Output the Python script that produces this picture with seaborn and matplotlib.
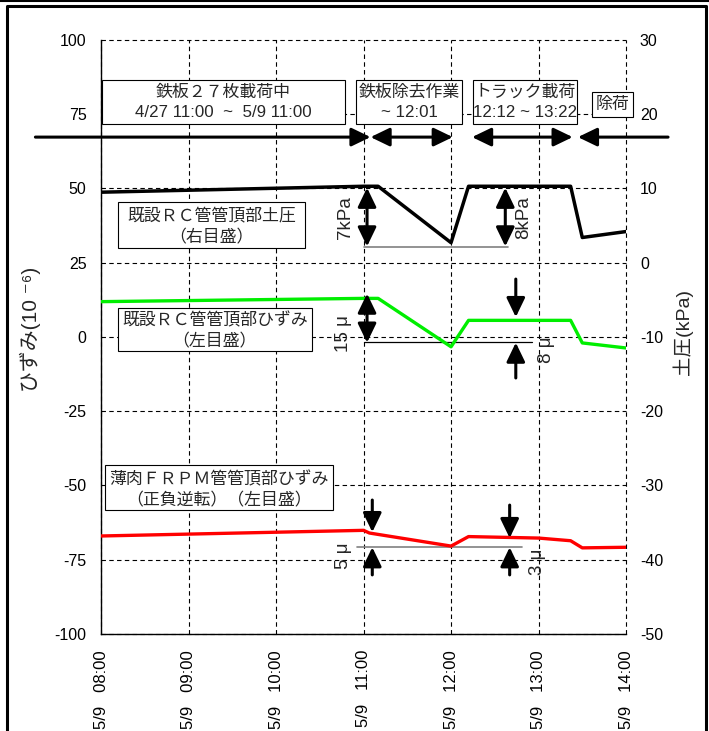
import matplotlib
matplotlib.use("Agg")
import matplotlib.pyplot as plt
import pandas as pd
import seaborn as sns
from matplotlib.patches import Rectangle, FancyArrowPatch
from matplotlib.lines import Line2D

# ---- data (5/9) ----
hour_ticks = [8, 9, 10, 11, 12, 13, 14]
hour_labels = ["5/9   08:00", "5/9   09:00", "5/9   10:00", "5/9   11:00",
               "5/9   12:00", "5/9   13:00", "5/9   14:00"]
strain_ticks = [100, 75, 50, 25, 0, -25, -50, -75, -100]
pressure_ticks = [30, 20, 10, 0, -10, -20, -30, -40, -50]

# existing RC pipe crown earth pressure (kPa, right axis)
pressure_times = ["08:00", "11:00", "11:10", "12:00", "12:12", "13:22", "13:30", "14:00"]
pressure_kpa = [9.5, 10.3, 10.3, 2.7, 10.3, 10.3, 3.4, 4.2]

# existing RC pipe crown strain (1e-6, left axis)
rc_strain_times = ["08:00", "11:00", "11:10", "12:00", "12:12", "13:22", "13:30", "14:00"]
rc_strain = [11.9, 13.0, 13.0, -3.3, 5.6, 5.6, -2.0, -3.7]

# thin FRPM pipe crown strain (sign reversed, 1e-6, left axis)
frpm_strain_times = ["08:00", "11:00", "11:04", "12:00", "12:12", "13:00", "13:22", "13:30", "14:00"]
frpm_strain = [-67.0, -65.1, -66.0, -70.4, -67.2, -67.7, -68.6, -71.0, -70.8]


def to_hours(t):
    h, m = t.split(":")
    return int(h) + int(m) / 60.0


df_p = pd.DataFrame({"hour": [to_hours(t) for t in pressure_times], "value": pressure_kpa})
df_rc = pd.DataFrame({"hour": [to_hours(t) for t in rc_strain_times], "value": rc_strain})
df_fr = pd.DataFrame({"hour": [to_hours(t) for t in frpm_strain_times], "value": frpm_strain})

sns.set_theme(style="white")
plt.rcParams["font.family"] = ["Liberation Sans", "Noto Sans CJK JP", "DejaVu Sans"]
plt.rcParams["axes.unicode_minus"] = False

fig = plt.figure(figsize=(7.09, 7.31), dpi=100)
ax = fig.add_axes([0.1425, 0.1327, 0.7405, 0.8126])
ax2 = ax.twinx()

sns.lineplot(data=df_rc, x="hour", y="value", ax=ax, color="#00ee00", lw=2.4, zorder=3)
sns.lineplot(data=df_fr, x="hour", y="value", ax=ax, color="#ff0000", lw=2.4, zorder=3)
sns.lineplot(data=df_p, x="hour", y="value", ax=ax2, color="black", lw=2.5, zorder=3)

ax.set_xlim(8, 14)
ax.set_ylim(-100, 100)
ax2.set_ylim(-50, 30)
ax.set_xticks(hour_ticks)
ax.set_xticklabels(hour_labels, rotation=90, fontsize=12)
ax.set_yticks(strain_ticks)
ax.set_yticklabels([str(v) for v in strain_ticks], fontsize=11.5)
ax2.set_yticks(pressure_ticks)
ax2.set_yticklabels([str(v) for v in pressure_ticks], fontsize=11.5)
ax.set_xlabel("")
ax.set_ylabel("")
ax2.set_ylabel("")

ax.tick_params(axis="x", length=0, pad=11.5, colors="black")
ax.tick_params(axis="y", length=0, pad=10.5, colors="black")
ax2.tick_params(axis="y", length=0, pad=10, colors="black")

ax.grid(True, color="black", lw=0.8, ls=(0, (4, 3)))
for gl in ax.xaxis.get_gridlines() + ax.yaxis.get_gridlines():
    gl.set_clip_on(False)
for side in ["top", "right"]:
    ax.spines[side].set_visible(False)
for side in ["left", "bottom"]:
    ax.spines[side].set_color("black")
    ax.spines[side].set_linewidth(1.0)
for side in ax2.spines:
    ax2.spines[side].set_visible(False)

fig.text(30 / 709, 1 - 329 / 731, "ひずみ(10 ⁻⁶)", rotation=90, ha="center", va="center", fontsize=15)
fig.text(683 / 709, 1 - 332 / 731, "土圧(kPa)", rotation=90, ha="center", va="center", fontsize=14)


def arrow(axis, x0, y0, x1, y1, style):
    head = style + ",head_length=0.58,head_width=0.28"
    axis.add_patch(FancyArrowPatch((x0, y0), (x1, y1), arrowstyle=head, mutation_scale=20,
                                   lw=2.2, color="black", shrinkA=0, shrinkB=0,
                                   clip_on=False, zorder=6))


def box(x0, x1, y0, y1):
    ax.add_patch(Rectangle((x0, y0), x1 - x0, y1 - y0, facecolor="white", edgecolor="black",
                           lw=0.8, zorder=4, clip_on=False))


def label(x, y, s, size=12.2, **kw):
    ax.text(x, y, s, ha="center", va="center", fontsize=size, zorder=5, clip_on=False, **kw)


# stage boxes and the timeline arrows
box(8.01, 10.79, 71.7, 86.5)
label(9.40, 82.3, "鉄板２７枚載荷中")
label(9.40, 75.6, "4/27 11:00  ~  5/9 11:00")
box(10.91, 12.13, 71.7, 86.5)
label(11.52, 82.3, "鉄板除去作業")
label(11.52, 75.6, "~ 12:01")
box(12.25, 13.44, 71.7, 86.5)
label(12.845, 82.3, "トラック載荷")
label(12.845, 75.6, "12:12 ~ 13:22")
box(13.61, 14.08, 74.1, 82.5)
label(13.845, 78.3, "除荷")

row = 67.3
arrow(ax, 7.25, row, 11.08, row, "-|>")
arrow(ax, 11.08, row, 12.02, row, "<|-|>")
arrow(ax, 12.24, row, 13.39, row, "<|-|>")
arrow(ax, 13.45, row, 14.48, row, "<|-")

# series captions
box(8.19, 10.33, 30.0, 45.5)
label(9.26, 41.1, "既設ＲＣ管管頂部土圧")
label(9.26, 33.7, "（右目盛）")
box(8.19, 10.41, -4.7, 9.8)
label(9.30, 5.7, "既設ＲＣ管管頂部ひずみ")
label(9.30, -1.3, "（左目盛）")
box(8.05, 10.65, -58.2, -43.1)
label(9.35, -48.0, "薄肉ＦＲＰＭ管管頂部ひずみ")
label(9.35, -55.0, "（正負逆転）（左目盛）")

# earth pressure drop / recovery
ax2.plot([11.0, 12.65], [2.1, 2.1], color="#808080", lw=1.2, zorder=2)
arrow(ax2, 11.04, 10.1, 11.04, 2.2, "<|-|>")
arrow(ax2, 12.62, 10.1, 12.62, 2.2, "<|-|>")
ax2.text(10.79, 6.1, "7kPa", rotation=90, ha="center", va="center", fontsize=13.5)
ax2.text(12.83, 6.1, "8kPa", rotation=90, ha="center", va="center", fontsize=13.5)

# RC strain change
ax.plot([11.0, 12.93], [-1.8, -1.8], color="black", lw=0.9, zorder=2)
arrow(ax, 11.04, 14.6, 11.04, -1.9, "<|-|>")
arrow(ax, 12.74, 19.5, 12.74, 6.7, "-|>")
arrow(ax, 12.74, -13.8, 12.74, -1.9, "-|>")
label(10.77, 1.3, "15 μ", size=13.5, rotation=90)
label(13.09, -4.4, "8 μ", size=13.5, rotation=90)

# FRPM strain change
ax.plot([10.93, 12.81], [-70.7, -70.7], color="#808080", lw=1.2, zorder=2)
arrow(ax, 11.10, -54.9, 11.10, -65.7, "-|>")
arrow(ax, 11.10, -80.1, 11.10, -70.8, "-|>")
arrow(ax, 12.67, -56.6, 12.67, -67.7, "-|>")
arrow(ax, 12.67, -80.1, 12.67, -70.8, "-|>")
label(10.77, -73.7, "5 μ", size=13.5, rotation=90)
label(12.99, -75.8, "3 μ", size=13.5, rotation=90)

# page frame
fig.add_artist(Line2D([0, 1], [1 - 1 / 731, 1 - 1 / 731], color="black", lw=1.5))
fig.add_artist(Line2D([7 / 709, 7 / 709, 706 / 709, 706 / 709],
                      [0, 1 - 6 / 731, 1 - 6 / 731, 0], color="black", lw=2.2))

fig.savefig("out.png", dpi=100, facecolor="white")
